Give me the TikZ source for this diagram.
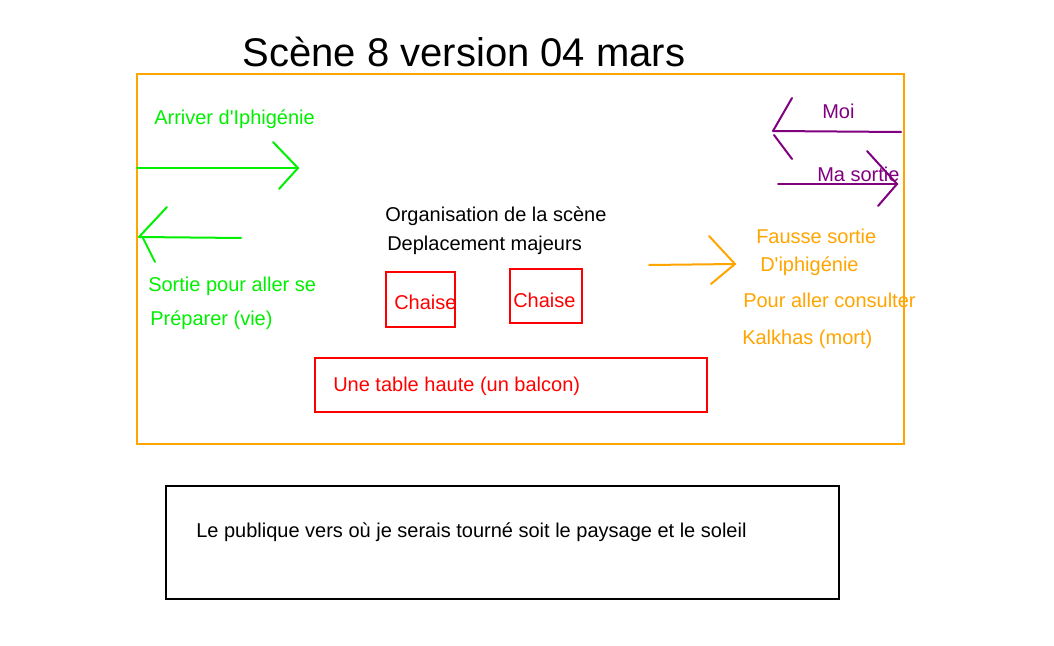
\documentclass[tikz,border=0pt]{standalone}
\usepackage{fontspec}
\setmainfont{Liberation Sans}[Ligatures=TeXOff]
\definecolor{lime}{RGB}{0,240,0}
\definecolor{stageorange}{RGB}{255,165,0}
\definecolor{plum}{RGB}{128,0,128}
\definecolor{redline}{RGB}{255,0,0}
\begin{document}
\begin{tikzpicture}[x=0.75pt,y=-0.75pt,
  lbl/.style={anchor=west,inner sep=0pt,yshift=-1.5pt,font=\fontsize{15}{18}\selectfont},
  stroke/.style={line width=1.5pt,line cap=round},
  boxline/.style={line width=1.5pt}]
\useasboundingbox (0,0) rectangle (1054,646);
\fill[white] (0,0) rectangle (1054,646);

% title
\node[anchor=center,inner sep=0pt,font=\fontsize{30}{36}\selectfont] (title) at (464,52) {Scène 8 version 04 mars};

% stage outline
\draw[boxline,stageorange] (137,74) rectangle (904,444);

% audience box
\draw[boxline,black] (166,486) rectangle (839,599);
\node[lbl] (public) at (196,530) {Le publique vers où je serais tourné soit le paysage et le soleil};

% green entrance and exit
\node[lbl,text=lime] (arrive) at (154,117) {Arriver d'Iphigénie};
\coordinate (ga1) at (137,168);
\coordinate (ga2) at (298,168);
\draw[stroke,lime] (ga1) -- (ga2);
\draw[stroke,lime] (273,142) -- (ga2) -- (279,189);
\coordinate (gb1) at (241,238);
\coordinate (gb2) at (139,237);
\draw[stroke,lime] (gb1) -- (gb2);
\draw[stroke,lime] (167,207) -- (gb2);
\draw[stroke,lime] (143,238) -- (155,262);
\node[lbl,text=lime] (sortie) at (148,284) {Sortie pour aller se};
\node[lbl,text=lime] (prep) at (150,318) {Préparer (vie)};

% heading in the middle
\node[lbl] (orga) at (385,214) {Organisation de la scène};
\node[lbl] (depl) at (387,243) {Deplacement majeurs};

% furniture
\draw[boxline,redline] (386,272) rectangle (455,327);
\node[lbl,text=redline] (chaise1) at (394,300) {Chaise};
\draw[boxline,redline] (510,269) rectangle (582,323);
\node[lbl,text=redline] (chaise2) at (513,298) {Chaise};
\draw[boxline,redline] (315,358) rectangle (707,412);
\node[lbl,text=redline] (table) at (333,384) {Une table haute (un balcon)};

% orange false exit
\coordinate (oa1) at (649,265);
\coordinate (oa2) at (735,264);
\draw[stroke,stageorange] (oa1) -- (oa2);
\draw[stroke,stageorange] (709,236) -- (oa2) -- (711,284);
\node[lbl,text=stageorange] (fausse) at (756,234) {Fausse sortie};
\node[lbl,text=stageorange] (diph) at (760,264) {D'iphigénie};
\node[lbl,text=stageorange] (pour) at (743,298) {Pour aller consulter};
\node[lbl,text=stageorange] (kalk) at (742,337) {Kalkhas (mort)};

% purple: my own moves
\node[lbl,text=plum] (moi) at (822,109) {Moi};
\coordinate (pa1) at (901,132);
\coordinate (pa2) at (773,131);
\draw[stroke,plum] (pa1) -- (pa2);
\draw[stroke,plum] (792,98) -- (pa2);
\draw[stroke,plum] (774,135) -- (792,159);
\node[lbl,text=plum] (masortie) at (817,172) {Ma sortie};
\coordinate (pb1) at (778,184);
\coordinate (pb2) at (897,184);
\draw[stroke,plum] (pb1) -- (pb2);
\draw[stroke,plum] (867,151) -- (pb2) -- (878,206);
\end{tikzpicture}
\end{document}
